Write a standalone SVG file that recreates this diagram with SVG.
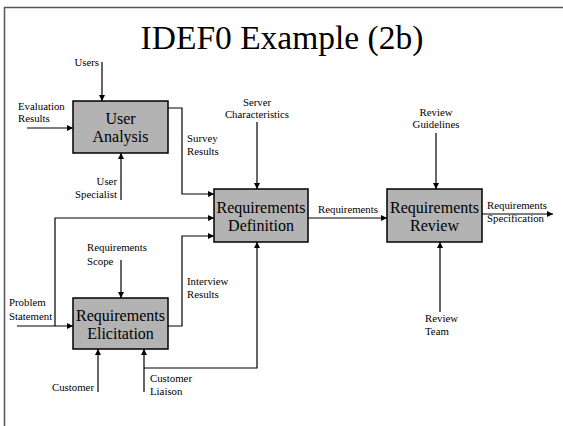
<svg xmlns="http://www.w3.org/2000/svg" width="563" height="426" viewBox="0 0 563 426">
<style>
.box{fill:#b3b3b3;stroke:#000;stroke-width:1.5}
.bt{font-size:16px;text-anchor:middle;fill:#000}
.lb{font-size:10.8px;fill:#000}
.c{fill:none;stroke:#000;stroke-width:1.2}
.a{marker-end:url(#ah)}
</style>
<defs>
<marker id="ah" viewBox="0 0 8 8" refX="8" refY="4" markerWidth="6" markerHeight="6" markerUnits="userSpaceOnUse" orient="auto">
<path d="M0,0 L8,4 L0,8 z" fill="#000"/>
</marker>
</defs>
<rect x="0" y="0" width="563" height="426" fill="#fff"/>
<path d="M4.5,426 V7.5 H563" fill="none" stroke="#555" stroke-width="1.5"/>
<text x="282" y="49" font-family="Liberation Serif, serif" font-size="33.5" text-anchor="middle" fill="#000">IDEF0 Example (2b)</text>

<g id="connectors">
<path class="c a" d="M102,62 V101"/>
<path class="c a" d="M27,128 H73"/>
<path class="c a" d="M121,200 V153"/>
<path class="c a" d="M168,108 H182 V194 H214"/>
<path class="c a" d="M257,122 V189"/>
<path class="c a" d="M17,326 H73"/>
<path class="c a" d="M55,326 V218 H214"/>
<path class="c a" d="M168,326 H182 V236 H214"/>
<path class="c a" d="M121,260 V298"/>
<path class="c a" d="M98,392 V349"/>
<path class="c a" d="M144,392 V349"/>
<path class="c a" d="M144,368 H257 V242"/>
<path class="c a" d="M308,218 H387"/>
<path class="c a" d="M436,133 V189"/>
<path class="c a" d="M440,312 V242"/>
<path class="c a" d="M482,214 H553"/>
</g>

<g id="user-analysis" font-family="Liberation Serif, serif">
<rect class="box" x="73" y="101" width="95" height="52"/>
<text class="bt" x="120.5" y="124">User</text>
<text class="bt" x="120.5" y="142">Analysis</text>
</g>
<g id="req-definition" font-family="Liberation Serif, serif">
<rect class="box" x="214" y="189" width="94" height="53"/>
<text class="bt" x="261" y="213">Requirements</text>
<text class="bt" x="261" y="231">Definition</text>
</g>
<g id="req-review" font-family="Liberation Serif, serif">
<rect class="box" x="387" y="189" width="95" height="53"/>
<text class="bt" x="434.5" y="213">Requirements</text>
<text class="bt" x="434.5" y="231">Review</text>
</g>
<g id="req-elicitation" font-family="Liberation Serif, serif">
<rect class="box" x="73" y="298" width="95" height="51"/>
<text class="bt" x="120.5" y="321">Requirements</text>
<text class="bt" x="120.5" y="339">Elicitation</text>
</g>

<g id="labels" font-family="Liberation Serif, serif">
<text class="lb" x="99" y="66" text-anchor="end">Users</text>
<text class="lb" x="18" y="110">Evaluation</text>
<text class="lb" x="18" y="122">Results</text>
<text class="lb" x="117" y="185" text-anchor="end">User</text>
<text class="lb" x="117" y="198" text-anchor="end">Specialist</text>
<text class="lb" x="187" y="142">Survey</text>
<text class="lb" x="187" y="155">Results</text>
<text class="lb" x="257" y="106" text-anchor="middle">Server</text>
<text class="lb" x="257" y="118" text-anchor="middle">Characteristics</text>
<text class="lb" x="318" y="213">Requirements</text>
<text class="lb" x="436" y="116" text-anchor="middle">Review</text>
<text class="lb" x="436" y="128" text-anchor="middle">Guidelines</text>
<text class="lb" x="487" y="209">Requirements</text>
<text class="lb" x="487" y="222">Specification</text>
<text class="lb" x="425" y="322">Review</text>
<text class="lb" x="425" y="335">Team</text>
<text class="lb" x="87" y="251">Requirements</text>
<text class="lb" x="87" y="265">Scope</text>
<text class="lb" x="187" y="285">Interview</text>
<text class="lb" x="187" y="298">Results</text>
<text class="lb" x="9" y="306">Problem</text>
<text class="lb" x="9" y="320">Statement</text>
<text class="lb" x="94" y="391" text-anchor="end">Customer</text>
<text class="lb" x="150" y="382">Customer</text>
<text class="lb" x="150" y="395">Liaison</text>
</g>
</svg>
